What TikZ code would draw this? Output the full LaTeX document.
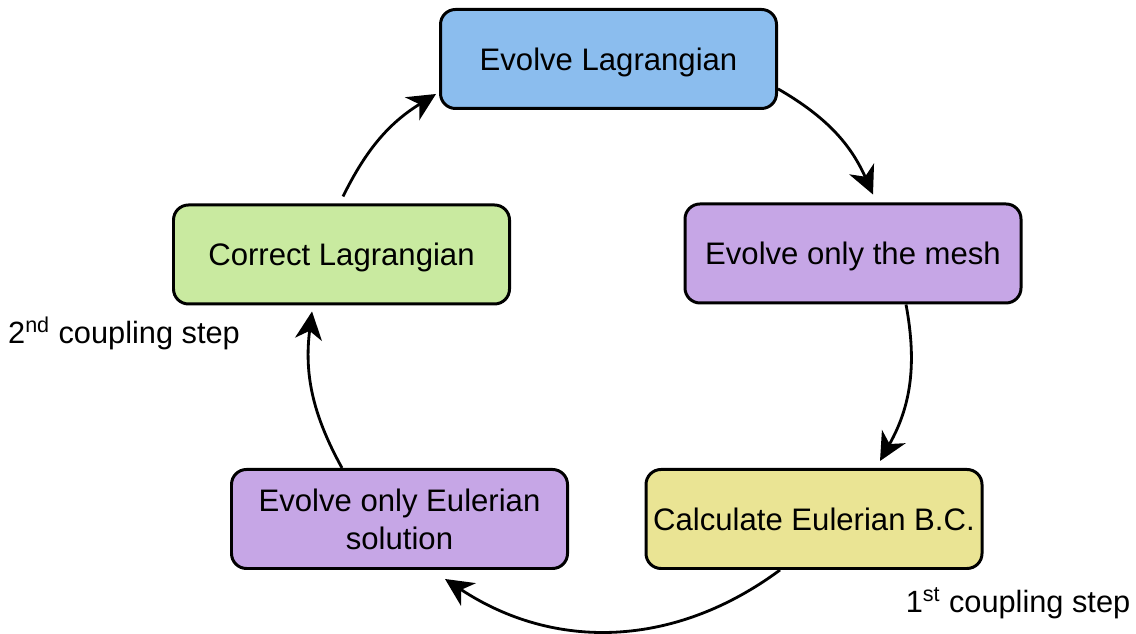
\documentclass[tikz,border=0pt]{standalone}
\usepackage{fontspec}
\setmainfont{Liberation Sans}
\usepackage{tikz}
\usetikzlibrary{arrows.meta, calc, positioning}
\definecolor{lagblue}{HTML}{8BBDEE}
\definecolor{meshpurple}{HTML}{C6A6E6}
\definecolor{bcyellow}{HTML}{EAE494}
\definecolor{corrgreen}{HTML}{C9EAA0}
\tikzset{
  stepbox/.style = {draw, line width=1.7pt, rounded corners=0.3cm,
                    minimum width=6.72cm, minimum height=1.98cm, text depth=0pt,
                    align=center, font=\fontsize{17.7}{21.6}\selectfont},
  flow/.style    = {-{Stealth[length=5.6mm, width=5.4mm, inset=1.7mm]}, line width=1.6pt, black},
  lbl/.style     = {font=\fontsize{17.5}{21.6}\selectfont},
}

\begin{document}
\begin{tikzpicture}
  \useasboundingbox (0,0) rectangle (22.72,12.68);
  % the five stages
  \node[stepbox, fill=lagblue]    (lag)  at (12.17,11.50) {Evolve Lagrangian};
  \node[stepbox, fill=meshpurple] (mesh) at (17.06, 7.61) {Evolve only the mesh};
  \node[stepbox, fill=bcyellow]   (bc)   at (16.28, 2.30) {Calculate Eulerian B.C.};
  \node[stepbox, fill=meshpurple] (eul)  at ( 7.99, 2.30) {Evolve only Eulerian\\solution};
  \node[stepbox, fill=corrgreen]  (corr) at ( 6.83, 7.59) {Correct Lagrangian};
  % cycle
  \draw[flow] (lag.-10) to[bend left=18] ($(mesh.north)+(0.40,0.16)$);
  \draw[flow] ($(mesh.south)+(1.06,0)$) to[bend left=20] ($(bc.north)+(1.32,0.14)$);
  \draw[flow] ($(bc.south)+(-0.68,0)$) to[bend left=35] ($(eul.south)+(0.91,-0.18)$);
  \draw[flow] ($(eul.north)+(-1.15,0)$) to[bend left=18] ($(corr.south)+(-0.59,-0.12)$);
  \draw[flow] ($(corr.north)+(0.03,0.14)$) to[bend left=16] ($(lag.west)+(-0.06,-0.70)$);
  % coupling labels
  \node[lbl] (cpl2) at (2.48, 6.02) {2\textsuperscript{nd} coupling step};
  \node[lbl] (cpl1) at (20.36, 0.62) {1\textsuperscript{st} coupling step};
\end{tikzpicture}
\end{document}
